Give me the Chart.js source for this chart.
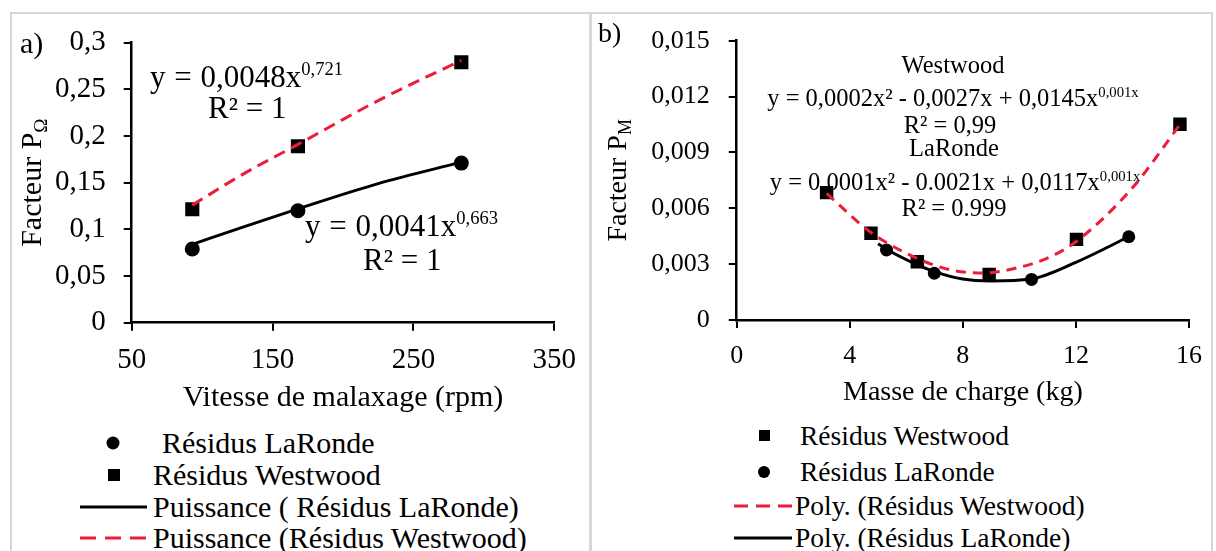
<!DOCTYPE html>
<html lang="fr">
<head>
<meta charset="utf-8">
<title>Facteurs de puissance</title>
<script src="https://cdn.jsdelivr.net/npm/chart.js@4.4.1/dist/chart.umd.min.js"></script>
<style>
  html, body { margin: 0; padding: 0; background: #fff; }
  body { width: 1216px; height: 551px; position: relative; overflow: hidden;
         font-family: 'Liberation Serif'; color: #000; }
  .frame { position: absolute; left: 10px; top: 12px; width: 1203px; height: 580px;
           border: 2px solid #d6d6d6; box-sizing: border-box; }
  .divider { position: absolute; left: 589px; top: 12px; width: 3px; height: 580px; background: #d6d6d6; }
  canvas { position: absolute; top: 0; }
  .t { position: absolute; white-space: nowrap; font-family: 'Liberation Serif'; }
  .c { text-align: center; width: 460px; }
  .sup { font-size: .6em; position: relative; top: -.62em; }
  .mk { position: absolute; overflow: visible; }
</style>
</head>
<body>
<div class="frame"></div>
<div class="divider"></div>

<canvas id="chart-a" width="590" height="420" style="left:0"></canvas>
<canvas id="chart-b" width="626" height="420" style="left:590px"></canvas>

<!-- panel a: labels and trendline equations -->
<div class="t" style="left:20px;top:28px;font-size:30px;line-height:30px">a)</div>
<div class="t" style="left:150px;top:61px;font-size:31px;line-height:31px;word-spacing:1px">y = 0,0048x<span class="sup">0,721</span></div>
<div class="t" style="left:208px;top:92px;font-size:31px;line-height:31px">R² = 1</div>
<div class="t" style="left:305px;top:210px;font-size:31px;line-height:31px;word-spacing:1px">y = 0,0041x<span class="sup">0,663</span></div>
<div class="t" style="left:363px;top:244px;font-size:31px;line-height:31px">R² = 1</div>

<!-- panel a legend -->
<svg class="mk" style="left:106px;top:436px" width="14" height="14"><circle cx="7" cy="7" r="6.5" fill="#000"/></svg>
<div class="t" style="left:162px;top:428px;font-size:30px;line-height:30px">Résidus LaRonde</div>
<svg class="mk" style="left:108px;top:469px" width="12" height="12"><rect width="12" height="12" fill="#000"/></svg>
<div class="t" style="left:153px;top:460px;font-size:30px;line-height:30px">Résidus Westwood</div>
<svg class="mk" style="left:80px;top:505px" width="68" height="4"><line x1="0" y1="2" x2="67" y2="2" stroke="#000" stroke-width="3"/></svg>
<div class="t" style="left:153px;top:492px;font-size:30px;line-height:30px">Puissance ( Résidus LaRonde)</div>
<svg class="mk" style="left:80px;top:536px" width="68" height="4"><line x1="0" y1="2" x2="67" y2="2" stroke="#ee1c3b" stroke-width="3" stroke-dasharray="16 9"/></svg>
<div class="t" style="left:153px;top:523px;font-size:30px;line-height:30px">Puissance (Résidus Westwood)</div>

<!-- panel b: labels and trendline equations -->
<div class="t" style="left:598px;top:19px;font-size:28px;line-height:28px">b)</div>
<div class="t c" style="left:723px;top:53px;font-size:24.5px;line-height:24px">Westwood</div>
<div class="t c" style="left:723px;top:86px;font-size:24.5px;line-height:24px">y = 0,0002x² - 0,0027x + 0,0145x<span class="sup">0,001x</span></div>
<div class="t c" style="left:720px;top:113px;font-size:24.5px;line-height:24px">R² = 0,99</div>
<div class="t c" style="left:724px;top:136px;font-size:24.5px;line-height:24px">LaRonde</div>
<div class="t c" style="left:725px;top:170px;font-size:24.5px;line-height:24px">y = 0,0001x² - 0.0021x + 0,0117x<span class="sup">0,001x</span></div>
<div class="t c" style="left:724px;top:196px;font-size:24.5px;line-height:24px">R² = 0.999</div>

<!-- panel b legend -->
<svg class="mk" style="left:759px;top:430px" width="11" height="11"><rect width="11" height="11" fill="#000"/></svg>
<div class="t" style="left:800px;top:422px;font-size:27.5px;line-height:28px">Résidus Westwood</div>
<svg class="mk" style="left:758px;top:466px" width="12" height="12"><circle cx="6" cy="6" r="6" fill="#000"/></svg>
<div class="t" style="left:800px;top:458px;font-size:27.5px;line-height:28px">Résidus LaRonde</div>
<svg class="mk" style="left:734px;top:504px" width="58" height="4"><line x1="0" y1="2" x2="58" y2="2" stroke="#ee1c3b" stroke-width="3" stroke-dasharray="14 8"/></svg>
<div class="t" style="left:795px;top:492px;font-size:27.5px;line-height:28px">Poly. (Résidus Westwood)</div>
<svg class="mk" style="left:734px;top:536px" width="58" height="4"><line x1="0" y1="2" x2="58" y2="2" stroke="#000" stroke-width="3"/></svg>
<div class="t" style="left:795px;top:524px;font-size:27.5px;line-height:28px">Poly. (Résidus LaRonde)</div>

<script>
const SERIF = "'Liberation Serif'";
const RED = '#ee1c3b';

// a) power factor vs mixing speed
const speedRpm = [93, 168, 284];
const laRondeA = [0.079, 0.120, 0.171];
const westwoodA = [0.1215, 0.189, 0.279];
// power trendlines
const trendSpeed = [93, 130, 168, 225, 284];
const trendLaRondeA = [0.084, 0.103, 0.122, 0.149, 0.172];
const trendWestwoodA = [0.126, 0.160, 0.191, 0.238, 0.281];
const rpmTicks = [50, 150, 250, 350];
const factorATicks = [0, 0.05, 0.1, 0.15, 0.2, 0.25, 0.3];

// b) power factor vs load mass
const massWestwood = [3.18, 4.75, 6.39, 8.93, 12.02, 15.68];
const westwoodB = [0.00684, 0.00466, 0.00313, 0.00245, 0.00433, 0.01051];
const massLaRonde = [5.30, 6.99, 10.43, 13.87];
const laRondeB = [0.00376, 0.00251, 0.00218, 0.00447];
// polynomial trendlines
const trendMassW = [3.18, 4.75, 6.4, 7.6, 8.7, 10.0, 11.1, 12.0, 14.0, 15.68];
const trendWestwoodB = [0.0068, 0.0047, 0.0033, 0.00268, 0.00252, 0.00283, 0.0034, 0.0042, 0.0071, 0.0105];
const trendMassL = [5.0, 5.3, 6.2, 7.0, 8.0, 9.0, 10.4, 12.0, 13.87];
const trendLaRondeB = [0.0041, 0.0038, 0.0031, 0.0026, 0.0022, 0.0021, 0.0022, 0.0031, 0.00447];
const massTicks = [0, 4, 8, 12, 16];
const factorBTicks = [0, 0.003, 0.006, 0.009, 0.012, 0.015];

const pts = (xs, ys) => xs.map((x, i) => ({ x, y: ys[i] }));

function axis(min, max, ticks, o) {
  return {
    type: 'linear', min, max,
    afterBuildTicks: s => { s.ticks = ticks.map(v => ({ value: v })); },
    afterFit: s => {
      if (o.width) s.width = o.width;
      if (o.height) s.height = o.height;
    },
    border: { color: '#000', width: 2.5 },
    grid: { drawOnChartArea: false, drawTicks: true, tickLength: 8, color: '#000', lineWidth: 2 },
    ticks: {
      color: '#000', padding: o.padding, autoSkip: false, maxRotation: 0,
      font: { family: SERIF, size: o.size },
      callback: v => String(v).replace('.', ',')
    }
  };
}

// axis titles; the y title carries a subscript (P with Ω / M)
const axisTitles = {
  id: 'axisTitles',
  afterDraw(chart, args, o) {
    const { ctx, chartArea: a } = chart;
    ctx.save();
    ctx.fillStyle = '#000';
    ctx.textBaseline = 'middle';
    ctx.font = `${o.size}px ${SERIF}`;
    ctx.textAlign = 'center';
    ctx.fillText(o.x, (a.left + a.right) / 2, a.bottom + o.xGap);

    ctx.translate(a.left - o.yGap, (a.top + a.bottom) / 2);
    ctx.rotate(-Math.PI / 2);
    ctx.textAlign = 'left';
    const mainW = ctx.measureText(o.y).width;
    ctx.font = `${o.subSize}px ${SERIF}`;
    const subW = ctx.measureText(o.ySub).width;
    const x0 = -(mainW + subW) / 2;
    ctx.fillText(o.ySub, x0 + mainW, o.subShift);
    ctx.font = `${o.size}px ${SERIF}`;
    ctx.fillText(o.y, x0, 0);
    ctx.restore();
  }
};

const trend = (data, color, dash) => ({
  data, showLine: true, borderColor: color, borderWidth: 3, borderDash: dash,
  pointRadius: 0, cubicInterpolationMode: 'monotone', fill: false
});
const marks = (data, style, r) => ({
  data, showLine: false, pointStyle: style, pointRadius: r,
  backgroundColor: '#000', borderColor: '#000', borderWidth: 0
});

function makeChart(id, datasets, scales, titles, padding) {
  return new Chart(document.getElementById(id), {
    type: 'scatter',
    data: { datasets },
    options: {
      responsive: false, animation: false, devicePixelRatio: 1,
      layout: { padding },
      scales,
      plugins: { legend: { display: false }, tooltip: { enabled: false }, axisTitles: titles }
    },
    plugins: [axisTitles]
  });
}

makeChart('chart-a', [
  trend(pts(trendSpeed, trendWestwoodA), RED, [12, 7]),
  trend(pts(trendSpeed, trendLaRondeA), '#000', []),
  marks(pts(speedRpm, westwoodA), 'rect', 10),
  marks(pts(speedRpm, laRondeA), 'circle', 7.5)
], {
  x: axis(50, 350, rpmTicks, { height: 97.3, padding: 12, size: 29 }),
  y: axis(0, 0.3, factorATicks, { width: 131.7, padding: 18, size: 29 })
}, {
  x: 'Vitesse de malaxage (rpm)', xGap: 75, yGap: 99,
  y: 'Facteur P', ySub: 'Ω', size: 30, subSize: 19, subShift: 9
}, { top: 42.7, right: 35.7, left: 0, bottom: 0 });

makeChart('chart-b', [
  trend(pts(trendMassW, trendWestwoodB), RED, [10, 7]),
  trend(pts(trendMassL, trendLaRondeB), '#000', []),
  marks(pts(massWestwood, westwoodB), 'rect', 9.5),
  marks(pts(massLaRonde, laRondeB), 'circle', 6.5)
], {
  x: axis(0, 16, massTicks, { height: 100, padding: 13, size: 26 }),
  y: axis(0, 0.015, factorBTicks, { width: 146.7, padding: 19, size: 26 })
}, {
  x: 'Masse de charge (kg)', xGap: 73, yGap: 118,
  y: 'Facteur P', ySub: 'M', size: 28, subSize: 18, subShift: 8
}, { top: 40.7, right: 27, left: 0, bottom: 0 });
</script>
</body>
</html>
